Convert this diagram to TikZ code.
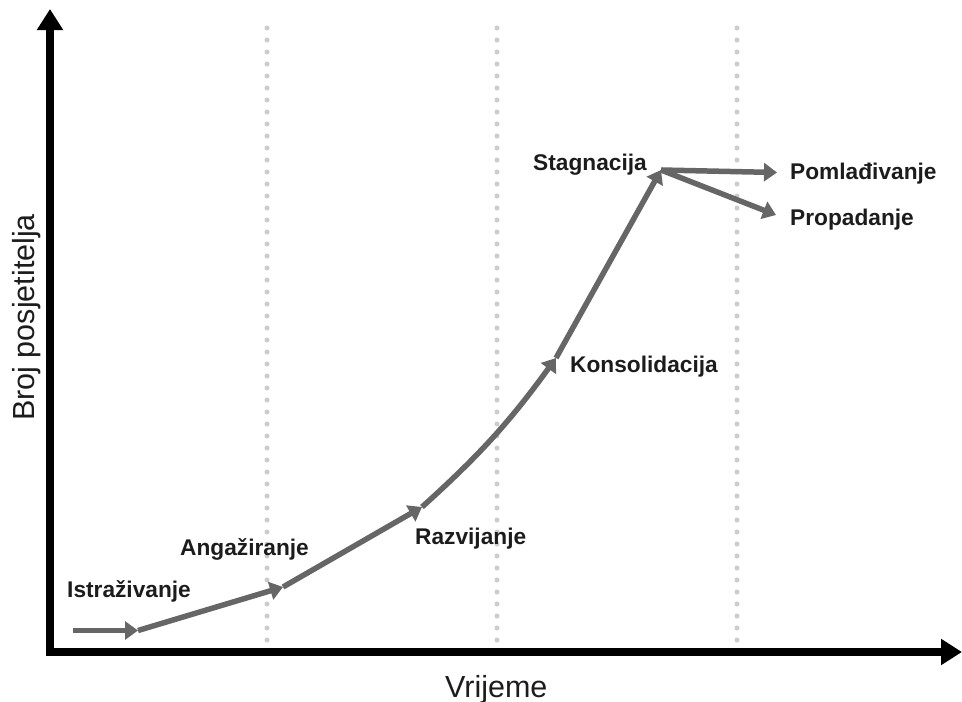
\documentclass[tikz,border=0pt]{standalone}
\usepackage{fontspec}
\setmainfont{Liberation Sans}
\usetikzlibrary{arrows.meta}
\definecolor{pathgray}{RGB}{102,102,102}
\definecolor{dotgray}{RGB}{204,204,204}
\definecolor{txt}{RGB}{28,28,28}
\tikzset{
  axisline/.style={line width=8pt, black, line join=miter,
    {Triangle[length=21pt,width=25pt]}-{Triangle[length=21pt,width=25pt]}},
  gridline/.style={dotgray, line width=5pt, line cap=round, dash pattern=on 0pt off 12pt},
  stage/.style={pathgray, line width=5.5pt, -{Triangle[length=13pt,width=18pt]}},
  lbl/.style={font=\bfseries\fontsize{22.7}{26}\selectfont, text=txt, inner sep=0pt, anchor=base west},
  axlbl/.style={font=\fontsize{30.5}{34}\selectfont, text=txt, inner sep=0pt, anchor=base west}
}
\begin{document}
\begin{tikzpicture}[x=1pt,y=-1pt]
\useasboundingbox (0,0) rectangle (962,702);
% grid lines
\draw[gridline] (267,28) -- (267,641);
\draw[gridline] (497,28) -- (497,641);
\draw[gridline] (737,28) -- (737,641);
% axes
\coordinate (ytop) at (50,9);
\coordinate (corner) at (50,652);
\coordinate (xend) at (962,652);
\draw[axisline] (ytop) -- (corner) -- (xend);
% path vertices
\coordinate (p0) at (73,630.5);
\coordinate (p1) at (138,630.5);
\coordinate (p2) at (283,587);
\coordinate (p3) at (422,507);
\coordinate (p4) at (556,358);
\coordinate (p5) at (661,170);
\coordinate (p6) at (777,172.5);
\coordinate (p7) at (776,215);
\draw[stage] (p0) -- (p1);
\draw[stage] (p1) -- (p2);
\draw[stage] (p2) -- (p3);
\draw[stage] (p3) to[bend right=6] (p4);
\draw[stage] (p4) -- (p5);
\draw[stage] (p5) -- (p6);
\draw[stage] (p5) -- (p7);
% labels
\node[lbl] (istr) at (67,597) {Istraživanje};
\node[lbl] (anga) at (180,555) {Angažiranje};
\node[lbl] (razv) at (415,544) {Razvijanje};
\node[lbl] (kons) at (570,372) {Konsolidacija};
\node[lbl] (stag) at (533,170) {Stagnacija};
\node[lbl] (poml) at (790,179) {Pomlađivanje};
\node[lbl] (prop) at (790,225) {Propadanje};
\node[axlbl] (vrij) at (445,697) {Vrijeme};
\node[axlbl, rotate=90] (broj) at (34.5,421) {Broj posjetitelja};
\end{tikzpicture}
\end{document}
